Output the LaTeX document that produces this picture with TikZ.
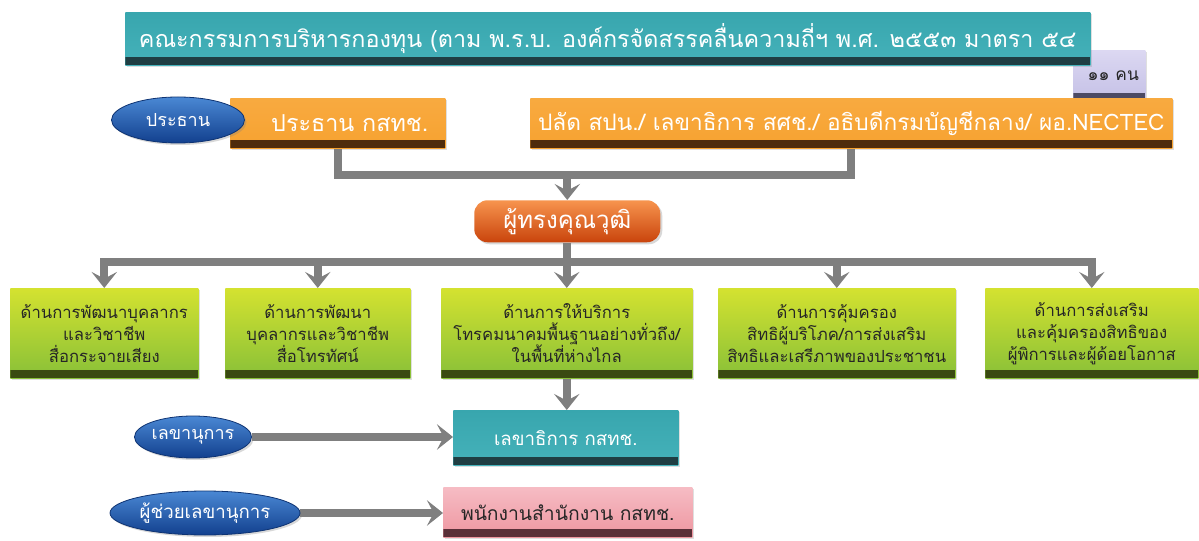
\documentclass[tikz,border=0pt]{standalone}
\usepackage{fontspec}
\setmainfont[Script=Thai]{Loma}
\usetikzlibrary{arrows.meta,shapes.geometric,backgrounds,shadows}
\definecolor{linegray}{HTML}{7F7F7F}
\definecolor{tealT}{HTML}{38A6AE}
\definecolor{tealM}{HTML}{03838E}
\definecolor{tealB}{HTML}{45B2BA}
\definecolor{tealD}{HTML}{1F3E43}
\definecolor{orT}{HTML}{F8AA40}
\definecolor{orM}{HTML}{F3951E}
\definecolor{orB}{HTML}{F7A230}
\definecolor{orD}{HTML}{4E2C0C}
\definecolor{redT}{HTML}{F7944E}
\definecolor{redM}{HTML}{EA6018}
\definecolor{redB}{HTML}{C9440C}
\definecolor{grT}{HTML}{D4E230}
\definecolor{grM}{HTML}{A6CE3A}
\definecolor{grB}{HTML}{88C038}
\definecolor{grD}{HTML}{3A4A12}
\definecolor{pkT}{HTML}{F6BCC4}
\definecolor{pkM}{HTML}{F0A0A8}
\definecolor{pkB}{HTML}{EE96A0}
\definecolor{pkD}{HTML}{5A3038}
\definecolor{lvT}{HTML}{DCD8F2}
\definecolor{lvM}{HTML}{C4C0E6}
\definecolor{lvD}{HTML}{4C4A64}
\definecolor{blT}{HTML}{4A88D4}
\definecolor{blB}{HTML}{12408E}
\definecolor{txtdark}{HTML}{262626}
\tikzset{
  band/.style={path picture={\fill[#1] ([yshift=6pt]path picture bounding box.south west) rectangle (path picture bounding box.south east);}},
  boxbase/.style={anchor=north west, inner sep=0pt, align=center,
    drop shadow={opacity=0.25, shadow xshift=1.5pt, shadow yshift=-1.5pt}},
  titlebox/.style={boxbase, top color=tealT, middle color=tealM, bottom color=tealB, band=tealD, text=white},
  orbox/.style={boxbase, top color=orT, middle color=orM, bottom color=orB, band=orD, text=white},
  grbox/.style={boxbase, top color=grT, middle color=grM, bottom color=grB, band=grD, text=txtdark,
    font=\fontsize{12.5}{16.5}\selectfont, minimum height=67.5pt},
  pkbox/.style={boxbase, top color=pkT, middle color=pkM, bottom color=pkB, band=pkD, text=txtdark},
  lvbox/.style={boxbase, top color=lvT, bottom color=lvM, band=lvD, text=txtdark},
  qualbox/.style={anchor=north west, inner sep=0pt, rounded corners=10pt, top color=redT, middle color=redM, bottom color=redB, text=white,
    drop shadow={opacity=0.3, shadow xshift=1.5pt, shadow yshift=-1.5pt}},
  blueell/.style={ellipse, inner sep=0pt, top color=blT, bottom color=blB, draw=blB!80!black, line width=0.6pt, text=white,
    drop shadow={opacity=0.3, shadow xshift=1.5pt, shadow yshift=-1.5pt}},
  conn/.style={draw=linegray, line width=6pt},
  arr/.style={conn, -{Stealth[length=12pt,width=19pt,inset=5pt]}},
}
\begin{document}
\begin{tikzpicture}[x=0.75pt,y=-0.75pt]
\useasboundingbox (0,0) rectangle (1199,541);
% lavender tag
\node[lvbox, minimum width=54pt, minimum height=38pt, font=\fontsize{13}{15}\selectfont] (count) at (1073,50) {\raisebox{-5pt}{\hspace*{6pt}๑๑ คน}};
% title
\node[titlebox, minimum width=723.75pt, minimum height=39.75pt, font=\fontsize{17.5}{19}\selectfont] (title) at (125,12) {คณะกรรมการบริหารกองทุน (ตาม พ.ร.บ. องค์กรจัดสรรคลื่นความถี่ฯ พ.ศ. ๒๕๕๓ มาตรา ๕๔};
% orange boxes
\node[orbox, minimum width=161.25pt, minimum height=37.5pt, font=\fontsize{17.5}{19}\selectfont] (o1) at (230,98) {\hspace*{18pt}ประธาน กสทช.};
\node[orbox, minimum width=481.5pt, minimum height=37.5pt, font=\fontsize{17}{19}\selectfont] (o2) at (530,98) {ปลัด สปน./ เลขาธิการ สศช./ อธิบดีกรมบัญชีกลาง/ ผอ.NECTEC};
\node[blueell, minimum width=99.75pt, minimum height=34.5pt, font=\fontsize{13.5}{16}\selectfont] (e1) at (178,120) {ประธาน};
% qualified
\node[qualbox, minimum width=139.5pt, minimum height=31.5pt, font=\fontsize{18}{20}\selectfont] (qual) at (474,200) {ผู้ทรงคุณวุฒิ};
% green boxes
\node[grbox, minimum width=141pt] (g1) at (10,288) {ด้านการพัฒนาบุคลากร\\และวิชาชีพ\\สื่อกระจายเสียง};
\node[grbox, minimum width=138.75pt] (g2) at (225,288) {ด้านการพัฒนา\\บุคลากรและวิชาชีพ\\สื่อโทรทัศน์};
\node[grbox, minimum width=188.25pt] (g3) at (441,288) {ด้านการให้บริการ\\โทรคมนาคมพื้นฐานอย่างทั่วถึง/\\ในพื้นที่ห่างไกล};
\node[grbox, minimum width=177.75pt] (g4) at (718,288) {ด้านการคุ้มครอง\\สิทธิผู้บริโภค/การส่งเสริม\\สิทธิและเสรีภาพของประชาชน};
\node[grbox, minimum width=159.75pt] (g5) at (985,288) {ด้านการส่งเสริม\\และคุ้มครองสิทธิของ\\ผู้พิการและผู้ด้อยโอกาส};
% secretary
\node[titlebox, minimum width=168.75pt, minimum height=41.25pt, font=\fontsize{14}{16}\selectfont] (sec) at (453,410) {เลขาธิการ กสทช.};
\node[blueell, minimum width=87.75pt, minimum height=31.5pt, font=\fontsize{13.5}{16}\selectfont] (e2) at (193,437) {เลขานุการ};
% staff
\node[pkbox, minimum width=186.75pt, minimum height=37.5pt, font=\fontsize{14.5}{16}\selectfont] (staff) at (443,487) {พนักงานสำนักงาน กสทช.};
\node[blueell, minimum width=142.5pt, minimum height=33pt, font=\fontsize{14}{16}\selectfont] (e3) at (205,513) {ผู้ช่วยเลขานุการ};
% connectors
\begin{pgfonlayer}{background}
\fill[white] (0,0) rectangle (1199,541);
\coordinate (h1) at (0,175);
\coordinate (h2) at (0,262);
\draw[conn, line join=miter] (o1.south) -- (o1.south |- h1) -- (o2.south |- h1) -- (o2.south);
\draw[arr] (qual.north |- h1) -- (qual.north);
\draw[conn] (qual.south) -- (qual.south |- h2);
\draw[conn, line cap=rect] (g1.north |- h2) -- (g5.north |- h2);
\foreach \g in {g1,g2,g3,g4,g5} \draw[arr] (\g.north |- h2) -- (\g.north);
\draw[arr] (g3.south) -- (g3.south |- sec.north);
\draw[arr] (e2.east) -- (e2.east -| sec.west);
\draw[arr] (e3.east) -- (e3.east -| staff.west);
\end{pgfonlayer}
\end{tikzpicture}
\end{document}
